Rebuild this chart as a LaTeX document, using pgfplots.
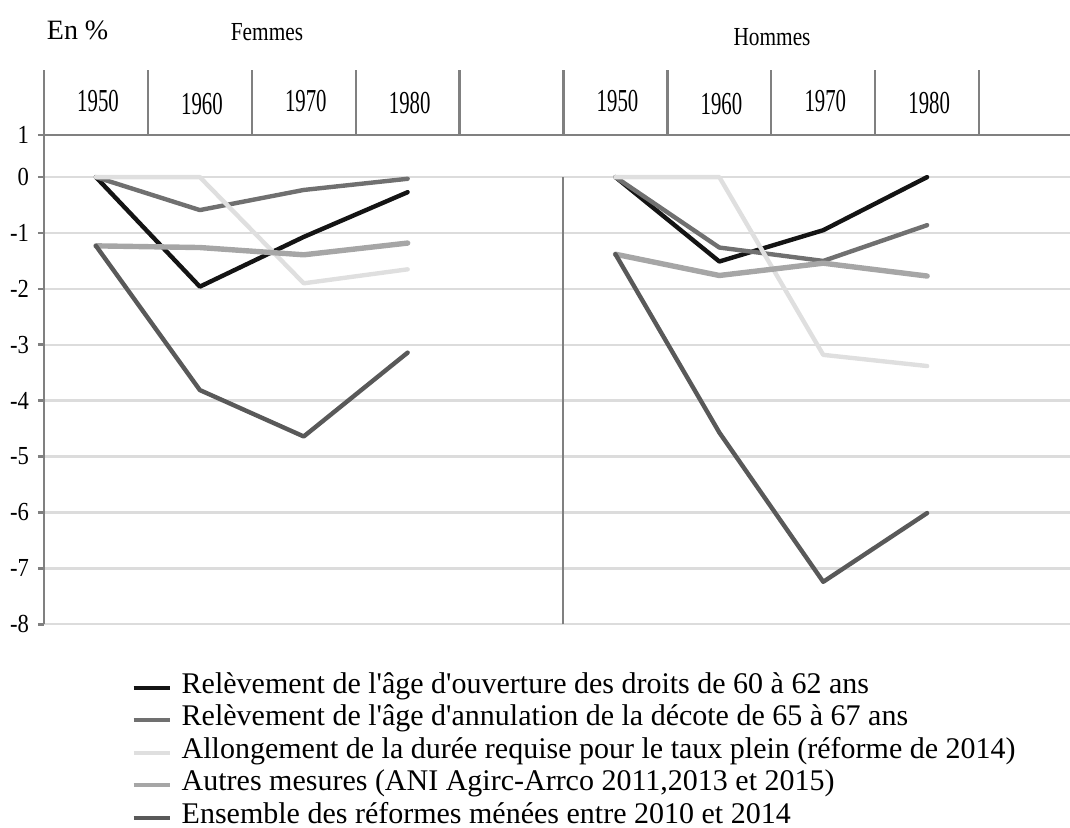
\documentclass[border=0pt]{standalone}
\usepackage{fontspec}
\setmainfont{Liberation Serif}
\usepackage{graphicx}
\usepackage{pgfplots}
\pgfplotsset{compat=1.18}

\definecolor{axgray}{HTML}{808080}
\definecolor{gridgray}{HTML}{DCDCDC}
\definecolor{cOuv}{HTML}{141414}
\definecolor{cAnn}{HTML}{707070}
\definecolor{cAll}{HTML}{DFDFDF}
\definecolor{cAut}{HTML}{A6A6A6}
\definecolor{cEns}{HTML}{595959}

\newcommand\yr[1]{\scalebox{0.65}[1]{\fontsize{16}{16}\selectfont #1}}
\newcommand\tl[1]{\scalebox{0.87}[1]{#1}}

\begin{document}
\begin{tikzpicture}
\begin{axis}[
  width=513pt, height=277.15pt, scale only axis,
  xmin=-0.5, xmax=9.375, ymin=-8, ymax=1.916,
  xtick=\empty,
  ytick={-8,-7,-6,-5,-4,-3,-2,-1,0},
  yticklabels={\tl{-8},\tl{-7},\tl{-6},\tl{-5},\tl{-4},\tl{-3},\tl{-2},\tl{-1},\tl{0}},
  extra y ticks={0.753}, extra y tick labels={\tl{1}},
  extra y tick style={grid=none},
  ymajorgrids, major grid style={gridgray, line width=1.2pt},
  tick align=outside, major tick length=3pt,
  tick style={axgray, line width=1.35pt},
  axis line style={draw=none},
  yticklabel style={font=\fontsize{13}{13}\selectfont, inner sep=0pt, xshift=-4.35pt},
  clip=false,
  legend style={at={(axis description cs:0.0855,-0.0884)}, anchor=north west,
    draw=none, fill=none, inner sep=0pt, outer sep=0pt,
    font=\fontsize{15}{16}\selectfont, column sep=5pt, row sep=4.25pt,
    nodes={inner sep=0pt, text height=10pt, text depth=2pt, anchor=base west}},
  legend cell align=left,
  legend image code/.code={\draw[#1, line width=2pt, line cap=butt] (0pt,2.8pt) -- (18pt,2.8pt);},
  every axis plot/.append style={line join=round, line cap=round},
]
% header row and frame
\draw[axgray, line width=1.35pt] ([xshift=-3pt]axis cs:-0.5,0.753) -- (axis cs:9.375,0.753);
\draw[axgray, line width=1.35pt] (axis cs:-0.5,-8) -- (axis cs:-0.5,1.916);
\pgfplotsinvokeforeach{0.5,1.5,2.5,3.5,4.5,5.5,6.5,7.5,8.5}{
  \draw[axgray, line width=1.15pt] (axis cs:#1,0.753) -- (axis cs:#1,1.916);
}
\draw[axgray, line width=1pt] (axis cs:4.5,-8) -- (axis cs:4.5,0);

% Femmes
\addplot[cOuv, line width=2.2pt] coordinates {(0,0) (1,-1.96) (2,-1.07) (3,-0.27)};
\addlegendentry{Relèvement de l\textquotesingle âge d\textquotesingle ouverture des droits de 60 à 62 ans}
\addplot[cAnn, line width=2.2pt] coordinates {(0,0) (1,-0.59) (2,-0.23) (3,-0.03)};
\addlegendentry{Relèvement de l\textquotesingle âge d\textquotesingle annulation de la décote de 65 à 67 ans}
\addplot[cAll, line width=2.2pt] coordinates {(0,0) (1,0) (2,-1.90) (3,-1.65)};
\addlegendentry{Allongement de la durée requise pour le taux plein (réforme de 2014)}
\addplot[cAut, line width=2.7pt] coordinates {(0,-1.23) (1,-1.26) (2,-1.39) (3,-1.18)};
\addlegendentry{Autres mesures (ANI Agirc-Arrco 2011,2013 et 2015)}
\addplot[cEns, line width=2.2pt] coordinates {(0,-1.23) (1,-3.81) (2,-4.64) (3,-3.14)};
\addlegendentry{Ensemble des réformes ménées entre 2010 et 2014}

% Hommes
\addplot[cOuv, line width=2.2pt, forget plot] coordinates {(5,0) (6,-1.51) (7,-0.95) (8,0)};
\addplot[cAnn, line width=2.2pt, forget plot] coordinates {(5,0) (6,-1.26) (7,-1.50) (8,-0.86)};
\addplot[cAll, line width=2.2pt, forget plot] coordinates {(5,0) (6,0) (7,-3.18) (8,-3.38)};
\addplot[cAut, line width=2.7pt, forget plot] coordinates {(5,-1.38) (6,-1.76) (7,-1.54) (8,-1.77)};
\addplot[cEns, line width=2.2pt, forget plot] coordinates {(5,-1.38) (6,-4.57) (7,-7.24) (8,-6.01)};

% header texts
\node[anchor=base west, inner sep=0pt] at (axis cs:-0.476,2.465)
  {\fontsize{14}{14}\selectfont En \%};
\node[anchor=base, inner sep=0pt] at (axis cs:1.646,2.44)
  {\scalebox{0.82}[1]{\fontsize{13}{13}\selectfont Femmes}};
\node[anchor=base, inner sep=0pt] at (axis cs:6.507,2.351)
  {\scalebox{0.82}[1]{\fontsize{13}{13}\selectfont Hommes}};
\node[anchor=base, inner sep=0pt] at (axis cs:0.02,1.170) {\yr{1950}};
\node[anchor=base, inner sep=0pt] at (axis cs:1.02,1.111) {\yr{1960}};
\node[anchor=base, inner sep=0pt] at (axis cs:2.02,1.170) {\yr{1970}};
\node[anchor=base, inner sep=0pt] at (axis cs:3.02,1.141) {\yr{1980}};
\node[anchor=base, inner sep=0pt] at (axis cs:5.02,1.170) {\yr{1950}};
\node[anchor=base, inner sep=0pt] at (axis cs:6.02,1.111) {\yr{1960}};
\node[anchor=base, inner sep=0pt] at (axis cs:7.02,1.170) {\yr{1970}};
\node[anchor=base, inner sep=0pt] at (axis cs:8.02,1.141) {\yr{1980}};
\end{axis}
\pgfresetboundingbox
\path[use as bounding box] (-22pt,-101.85pt) rectangle (513pt,312.15pt);
\end{tikzpicture}
\end{document}
